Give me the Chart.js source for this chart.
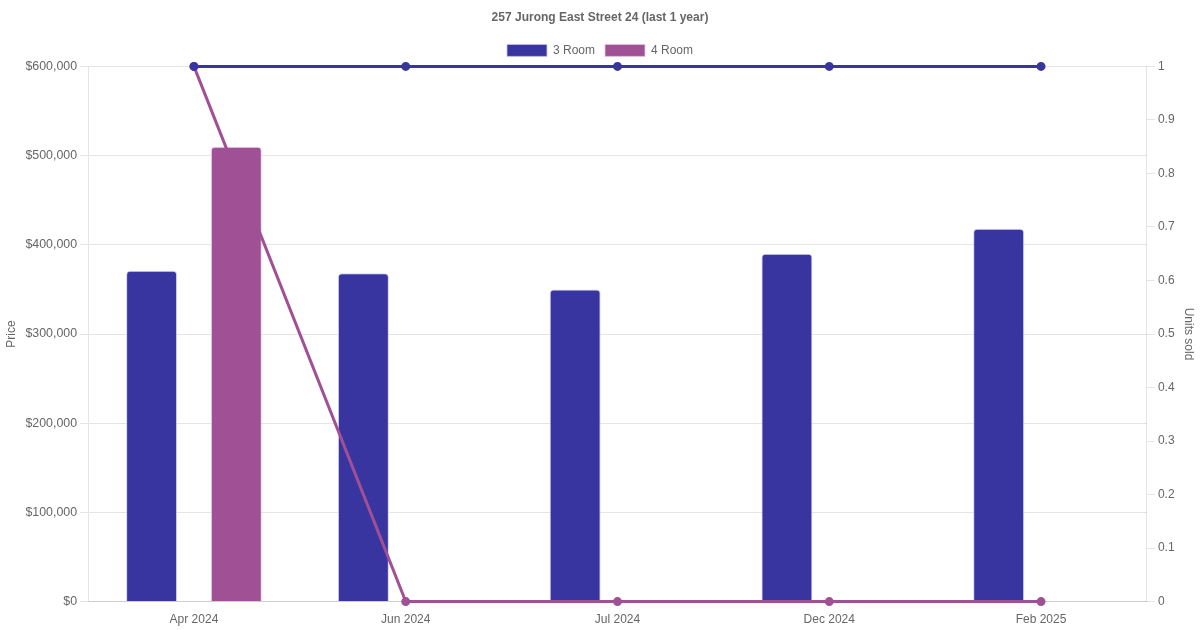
<!DOCTYPE html>
<html>
<head>
<meta charset="utf-8">
<script src="https://cdn.jsdelivr.net/npm/chart.js@4"></script>
<style>
html,body{margin:0;padding:0;background:#fff;}
#wrap{width:1200px;height:630px;}
</style>
</head>
<body>
<div id="wrap"><canvas id="c" width="1200" height="630"></canvas></div>
<script>
const categories = ['Apr 2024', 'Jun 2024', 'Jul 2024', 'Dec 2024', 'Feb 2025'];
const price3Room = [371000, 368000, 350000, 390000, 418000];
const price4Room = [510000, null, null, null, null];
const units3Room = [1, 1, 1, 1, 1];
const units4Room = [1, 0, 0, 0, 0];

const c3 = 'rgb(57,53,160)';
const c4 = 'rgb(160,80,148)';

Chart.defaults.font.family = '"Liberation Sans", Arial, sans-serif';
Chart.defaults.color = '#666';

new Chart(document.getElementById('c'), {
  data: {
    labels: categories,
    datasets: [
      { type: 'line', label: '3 Room units', data: units3Room, yAxisID: 'y1', clip: false,
        borderColor: c3, backgroundColor: c3, borderWidth: 3, pointRadius: 3, pointBackgroundColor: c3, order: 0 },
      { type: 'line', label: '4 Room units', data: units4Room, yAxisID: 'y1', clip: false,
        borderColor: c4, backgroundColor: c4, borderWidth: 3, pointRadius: 3, pointBackgroundColor: c4, order: 0 },
      { type: 'bar', label: '3 Room', data: price3Room, yAxisID: 'y',
        backgroundColor: c3, borderColor: 'rgba(200,200,235,0.8)', borderWidth: 1, borderRadius: 4,
        maxBarThickness: 51, order: 1 },
      { type: 'bar', label: '4 Room', data: price4Room, yAxisID: 'y',
        backgroundColor: c4, borderColor: 'rgba(230,200,225,0.8)', borderWidth: 1, borderRadius: 4,
        maxBarThickness: 51, order: 1 }
    ]
  },
  options: {
    responsive: false,
    animation: false,
    layout: { padding: { left: 0, right: 0, top: 0, bottom: 0 } },
    plugins: {
      title: { display: true, text: '257 Jurong East Street 24 (last 1 year)', font: { size: 12, weight: 'bold' }, color: '#666', padding: { top: 10, bottom: 10 } },
      legend: {
        labels: { boxWidth: 40, boxHeight: 12, font: { size: 12 },
          filter: (item) => item.text === '3 Room' || item.text === '4 Room' }
      },
      tooltip: { enabled: false }
    },
    scales: {
      x: { grid: { display: false }, border: { display: true }, ticks: { font: { size: 12 } } },
      y: { position: 'left', min: 0, max: 600000,
        ticks: { stepSize: 100000, font: { size: 12.4 }, callback: v => '$' + v.toLocaleString('en-US') },
        title: { display: true, text: 'Price', font: { size: 12 } } },
      y1: { position: 'right', min: 0, max: 1,
        grid: { drawOnChartArea: false },
        ticks: { stepSize: 0.1, font: { size: 12 }, callback: v => String(Math.round(v * 10) / 10) },
        title: { display: true, text: 'Units sold', font: { size: 12 } } }
    }
  }
});
</script>
</body>
</html>
